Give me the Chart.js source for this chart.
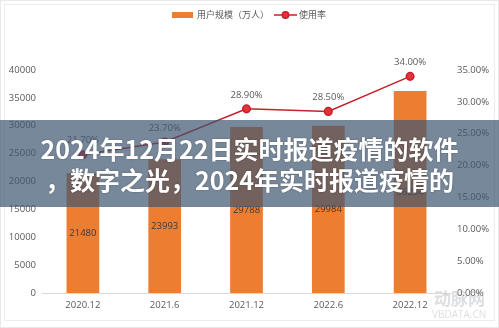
<!DOCTYPE html>
<html>
<head>
<meta charset="utf-8">
<script src="https://cdn.jsdelivr.net/npm/chart.js@4/dist/chart.umd.min.js"></script>
<style>
  html, body { margin: 0; padding: 0; background: #ffffff; }
  #wrap { position: relative; width: 499px; height: 328px; overflow: hidden; background: #fff; }
  #c { position: absolute; left: 0; top: 0; }
  #outer { position: absolute; left: 0; top: 0; width: 497px; height: 326px; border: 1px solid #e9e9e9; pointer-events: none; }
  #frame { position: absolute; left: 4px; top: 4px; width: 489px; height: 315px; border: 1px solid #ececec; pointer-events: none; }
  #band { position: absolute; left: 0; top: 120px; width: 499px; height: 87px; background: rgba(62, 86, 112, 0.7);
          color: #fff; font-family: "Noto Sans CJK SC", "Noto Sans", sans-serif; font-weight: 700; font-size: 25px;
          text-align: center; line-height: 31px; padding-top: 13px; box-sizing: border-box; text-shadow: 0 0 2px rgba(0,0,0,0.35); }
</style>
</head>
<body>
<div id="wrap">
  <canvas id="c" width="499" height="328"></canvas>
  <div id="outer"></div>
  <div id="frame"></div>
  <div id="band">2024年12月22日实时报道疫情的软件<br>，数字之光，2024年实时报道疫情的</div>
</div>
<script>
const categories = ["2020.12", "2021.6", "2021.12", "2022.6", "2022.12"];
const userScale = [21480, 23993, 29788, 29984, 36254];
const usageRate = [21.70, 23.70, 28.90, 28.50, 34.00];
const seriesNames = ["用户规模（万人）", "使用率"];

const FONT = '"Open Sans", "Noto Sans CJK SC", sans-serif';
const CJK = '"Noto Sans CJK SC", "Open Sans", sans-serif';
const ORANGE = '#ed7d31';
const RED = '#c8202a';
const GRAY = '#595959';

const labelsPlugin = {
  id: 'valueLabels',
  afterDatasetsDraw(chart) {
    const ctx = chart.ctx;
    ctx.save();
    ctx.font = '9.5px ' + FONT;
    ctx.textAlign = 'center';
    ctx.textBaseline = 'middle';
    chart.data.datasets.forEach((ds, i) => {
      const meta = chart.getDatasetMeta(i);
      meta.data.forEach((el, j) => {
        if (ds.type === 'bar') {
          ctx.fillStyle = '#3a3a3a';
          ctx.fillText(String(ds.data[j]), el.x, (el.y + el.base) / 2);
        } else {
          ctx.fillStyle = GRAY;
          ctx.fillText(ds.data[j].toFixed(2) + '%', el.x, el.y - 14);
        }
      });
    });
    ctx.restore();
  },
  afterDraw(chart) {
    const ctx = chart.ctx;
    ctx.save();
    // custom legend
    ctx.fillStyle = ORANGE;
    ctx.fillRect(172, 12, 21, 6);
    ctx.font = '9px ' + CJK;
    ctx.textBaseline = 'middle';
    ctx.textAlign = 'left';
    ctx.fillStyle = GRAY;
    ctx.fillText(seriesNames[0], 197, 15);
    ctx.strokeStyle = RED;
    ctx.lineWidth = 1.5;
    ctx.beginPath(); ctx.moveTo(274, 15); ctx.lineTo(297, 15); ctx.stroke();
    ctx.beginPath(); ctx.arc(285.5, 15, 3.2, 0, Math.PI * 2);
    ctx.fillStyle = '#e2323a'; ctx.fill(); ctx.stroke();
    ctx.fillStyle = GRAY;
    ctx.fillText(seriesNames[1], 299, 15);
    // watermark
    ctx.globalAlpha = 0.35;
    ctx.fillStyle = '#9aa0a6';
    ctx.font = 'bold 17px ' + CJK;
    ctx.fillText('动脉网', 434, 299);
    ctx.font = '10px ' + FONT;
    ctx.fillText('VBDATA.CN', 432, 315);
    ctx.restore();
  }
};

new Chart(document.getElementById('c'), {
  data: {
    labels: categories,
    datasets: [
      {
        type: 'line', label: seriesNames[1], data: usageRate, yAxisID: 'y1', order: 0,
        borderColor: RED, borderWidth: 1.5, pointRadius: 3.8, pointBorderWidth: 1.5,
        pointBackgroundColor: '#e2323a', pointBorderColor: RED, tension: 0
      },
      {
        type: 'bar', label: seriesNames[0], data: userScale, yAxisID: 'y', order: 1,
        backgroundColor: ORANGE, barPercentage: 0.4, categoryPercentage: 1
      }
    ]
  },
  options: {
    responsive: false, animation: false, devicePixelRatio: 1,
    layout: { padding: { top: 70, left: 0, right: 0, bottom: 0 } },
    plugins: { legend: { display: false }, tooltip: { enabled: false } },
    scales: {
      x: {
        grid: { display: false, drawTicks: false },
        border: { display: true, color: '#d9d9d9', width: 1 },
        ticks: { color: GRAY, font: { size: 9.5, family: FONT }, padding: 7, maxRotation: 0 },
        afterFit(s) { s.height = 35; }
      },
      y: {
        position: 'left', min: 0, max: 40000,
        grid: { display: false, drawTicks: false }, border: { display: false },
        ticks: { stepSize: 5000, color: GRAY, font: { size: 9.5, family: FONT }, padding: 6,
                 callback: (v) => String(v) },
        afterFit(s) { s.width = 42; }
      },
      y1: {
        position: 'right', min: 0, max: 35,
        grid: { display: false, drawTicks: false }, border: { display: false },
        ticks: { stepSize: 5, color: GRAY, font: { size: 9.5, family: FONT }, padding: 6,
                 callback: (v) => Number(v).toFixed(2) + '%' },
        afterFit(s) { s.width = 48; }
      }
    }
  },
  plugins: [labelsPlugin]
});
</script>
</body>
</html>
